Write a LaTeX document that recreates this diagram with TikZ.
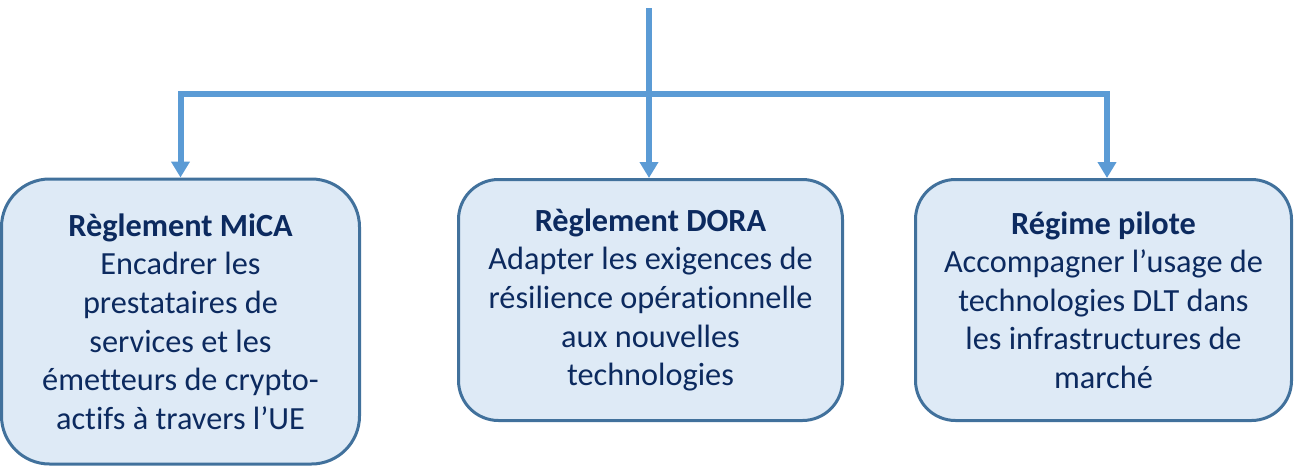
\documentclass[tikz,border=0pt]{standalone}
\usepackage{fontspec}
\setmainfont[Ligatures=NoCommon]{Carlito}
\usetikzlibrary{arrows.meta}
\definecolor{boxfill}{HTML}{DEEAF6}
\definecolor{boxdraw}{HTML}{41719C}
\definecolor{txt}{HTML}{0C2A5F}
\definecolor{conn}{HTML}{5B9BD5}
\tikzset{
  box/.style={draw=boxdraw, line width=3pt, fill=boxfill, text=txt, align=center,
    inner sep=0pt, font=\fontsize{32.3}{38.6}\selectfont},
  link/.style={draw=conn, line width=6pt, line join=miter},
  arr/.style={link, -{Triangle[width=18pt,length=16pt]}}
}
\begin{document}
\begin{tikzpicture}[x=1pt,y=-1pt]
\useasboundingbox (0,0) rectangle (1294,469);
\node[box, rounded corners=48pt, minimum width=358pt, minimum height=285pt] (b1) at (180.5,321.5)
  {\textbf{Règlement MiCA}\\Encadrer les\\prestataires de\\services et les\\émetteurs de crypto-\\actifs à travers l’UE};
\node[box, rounded corners=40pt, minimum width=384pt, minimum height=241pt] (b2) at (650.5,300)
  {\textbf{Règlement DORA}\\Adapter les exigences de\\résilience opérationnelle\\aux nouvelles\\technologies};
\node[box, rounded corners=40pt, minimum width=376pt, minimum height=241pt] (b3) at (1103.5,300)
  {\textbf{Régime pilote}\\Accompagner l’usage de\\technologies DLT dans\\les infrastructures de\\marché};
\coordinate (top) at (649,8);
\coordinate (h) at (649,94);
\coordinate (j1) at (180.5,94);
\coordinate (j3) at (1107,94);
\coordinate (e3) at (1107,178);
\draw[arr] (top) -- (top |- b2.north);
\draw[arr] (h) -- (j1) -- (b1.north);
\draw[arr] (h) -- (j3) -- (e3);
\end{tikzpicture}
\end{document}
